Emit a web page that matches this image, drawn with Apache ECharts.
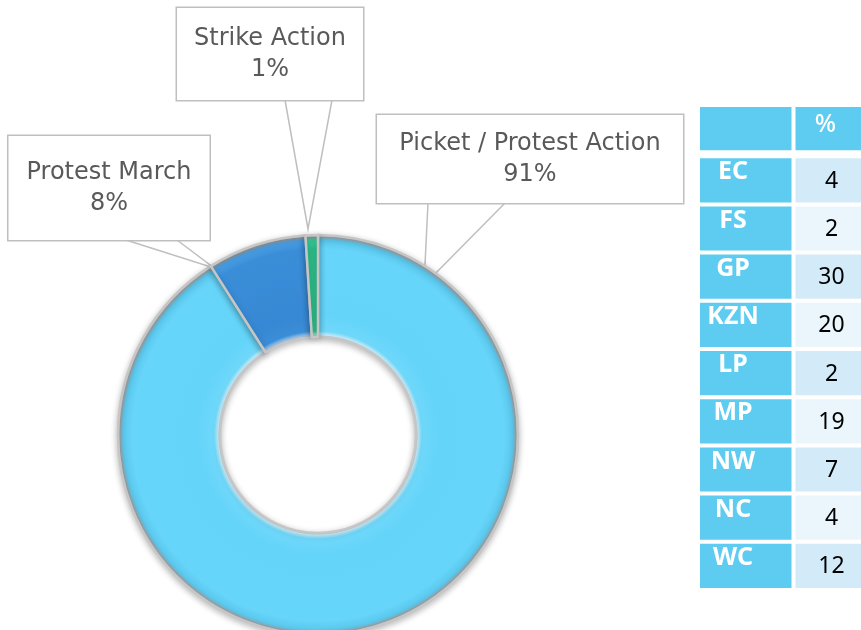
<!DOCTYPE html>
<html>
<head>
<meta charset="utf-8">
<script src="https://cdn.jsdelivr.net/npm/echarts@6/dist/echarts.min.js"></script>
<style>
  html, body { margin: 0; padding: 0; background: #fff; }
  #chart { width: 861px; height: 630px; }
</style>
</head>
<body>
<div id="chart"></div>
<script>
// donut data (percent)
const actionTypes = ["Picket / Protest Action", "Protest March", "Strike Action"];
const actionShares = [91, 8, 1];

// province table
const tableHeader = ["", "%"];
const provinces = ["EC", "FS", "GP", "KZN", "LP", "MP", "NW", "NC", "WC"];
const provinceShares = [4, 2, 30, 20, 2, 19, 7, 4, 12];

// layout of the donut and its callouts (pixels)
const pieCenter = [318, 435];
const pieRadius = [98, 200];
const calloutBoxes = [
  { cx: 530, cy: 159, w: 306, pad: 13, pointer: [[428, 203], [424, 285], [505, 203]] },
  { cx: 109, cy: 188, w: 201, pad: 21, pointer: [[126, 240], [214, 268], [177, 240]] },
  { cx: 270, cy: 54, w: 186, pad: 15, pointer: [[285, 100], [308, 229], [332, 100]] },
];
const sliceColors = [
  ["#b5b5b5", "#c9f0fd", "#6fd8fa", "#64d4f9", "#66d5f9", "#5bc7ec", "#9aa3a8", "#d4d4d4"],
  ["#b5b5b5", "#9cc6ec", "#3a8dd7", "#3788d4", "#3a8ed8", "#4aa0e6", "#8d969c", "#d4d4d4"],
  ["#b5b5b5", "#9fe0c8", "#30c08d", "#2dbb88", "#2dbb88", "#3acb98", "#8d969c", "#d4d4d4"],
];
const stopPos = [0.49, 0.5, 0.52, 0.6, 0.93, 0.975, 0.99, 1];

const chart = echarts.init(document.getElementById("chart"));

function bevel(colors) {
  return new echarts.graphic.RadialGradient(
    pieCenter[0], pieCenter[1], pieRadius[1],
    colors.map((c, i) => ({ offset: stopPos[i], color: c })),
    true
  );
}

const pieData = actionTypes.map((name, i) => ({
  name: name,
  value: actionShares[i],
  itemStyle: { color: bevel(sliceColors[i]) },
  label: {
    width: calloutBoxes[i].w,
    padding: [calloutBoxes[i].pad + 3, 0, calloutBoxes[i].pad - 3, 0],
  },
}));

// table cells: [column, row, value]
const cellData = [[0, 0, 0], [1, 0, 0]];
provinces.forEach((p, i) => {
  cellData.push([0, i + 1, 0]);
  cellData.push([1, i + 1, provinceShares[i]]);
});

function renderCell(params, api) {
  const col = api.value(0);
  const row = api.value(1);
  const c = api.coord([col, row]);
  const s = api.size([1, 1]);
  const left = c[0] - s[0] / 2 + 2;
  const top = c[1] - s[1] / 2 + (row === 0 ? -1 : 2);
  const w = s[0] - 4;
  const h = s[1] - (row === 0 ? 5 : 4);
  let fill = "#5ecbf0";
  if (col === 1 && row > 0) fill = row % 2 === 1 ? "#d3ebf8" : "#eaf6fc";
  let text = "";
  let textStyle;
  if (row === 0) {
    text = tableHeader[col];
    textStyle = { x: left + 30, y: top + 18, fill: "#fff", font: "500 25px 'Noto Sans'" };
  } else if (col === 0) {
    text = provinces[row - 1];
    textStyle = { x: left + 33, y: top + 14, fill: "#fff", font: "bold 25px 'Noto Sans'" };
  } else {
    text = String(provinceShares[row - 1]);
    textStyle = { x: left + 36, y: top + 23, fill: "#000", font: "23px 'Noto Sans'" };
  }
  return {
    type: "group",
    children: [
      { type: "rect", shape: { x: left, y: top, width: w, height: h }, style: { fill: fill } },
      {
        type: "text",
        style: Object.assign({ text: text, align: "center", verticalAlign: "middle" }, textStyle),
      },
    ],
  };
}

chart.setOption({
  animation: false,
  backgroundColor: "#fff",
  grid: { left: 698, top: 108, width: 191, height: 482, outerBoundsMode: "none", containLabel: false },
  xAxis: { type: "category", data: ["name", "value"], show: false },
  yAxis: { type: "category", data: ["header"].concat(provinces), inverse: true, show: false },
  series: [
    {
      type: "pie",
      center: pieCenter,
      radius: pieRadius,
      startAngle: 90,
      clockwise: true,
      data: pieData,
      itemStyle: {
        borderColor: "#c6c6c6",
        borderWidth: 2.5,
        shadowBlur: 6,
        shadowColor: "rgba(0,0,0,0.25)",
        shadowOffsetY: 2,
      },
      label: {
        show: true,
        position: "outside",
        formatter: "{b}\n{c}%",
        color: "#595959",
        fontFamily: "DejaVu Sans",
        fontSize: 24,
        lineHeight: 31,
        align: "center",
        backgroundColor: "#fff",
        borderColor: "#bfbfbf",
        borderWidth: 1.5,
      },
      labelLine: {
        show: true,
        length: 10,
        length2: 10,
        lineStyle: { color: "#bfbfbf", width: 1.5 },
      },
      labelLayout: function (params) {
        const b = calloutBoxes[params.dataIndex];
        return {
          x: b.cx,
          y: b.cy,
          align: "center",
          verticalAlign: "middle",
          labelLinePoints: b.pointer,
        };
      },
      emphasis: { disabled: true },
    },
    {
      type: "custom",
      coordinateSystem: "cartesian2d",
      renderItem: renderCell,
      data: cellData,
      silent: true,
    },
  ],
});
</script>
</body>
</html>
